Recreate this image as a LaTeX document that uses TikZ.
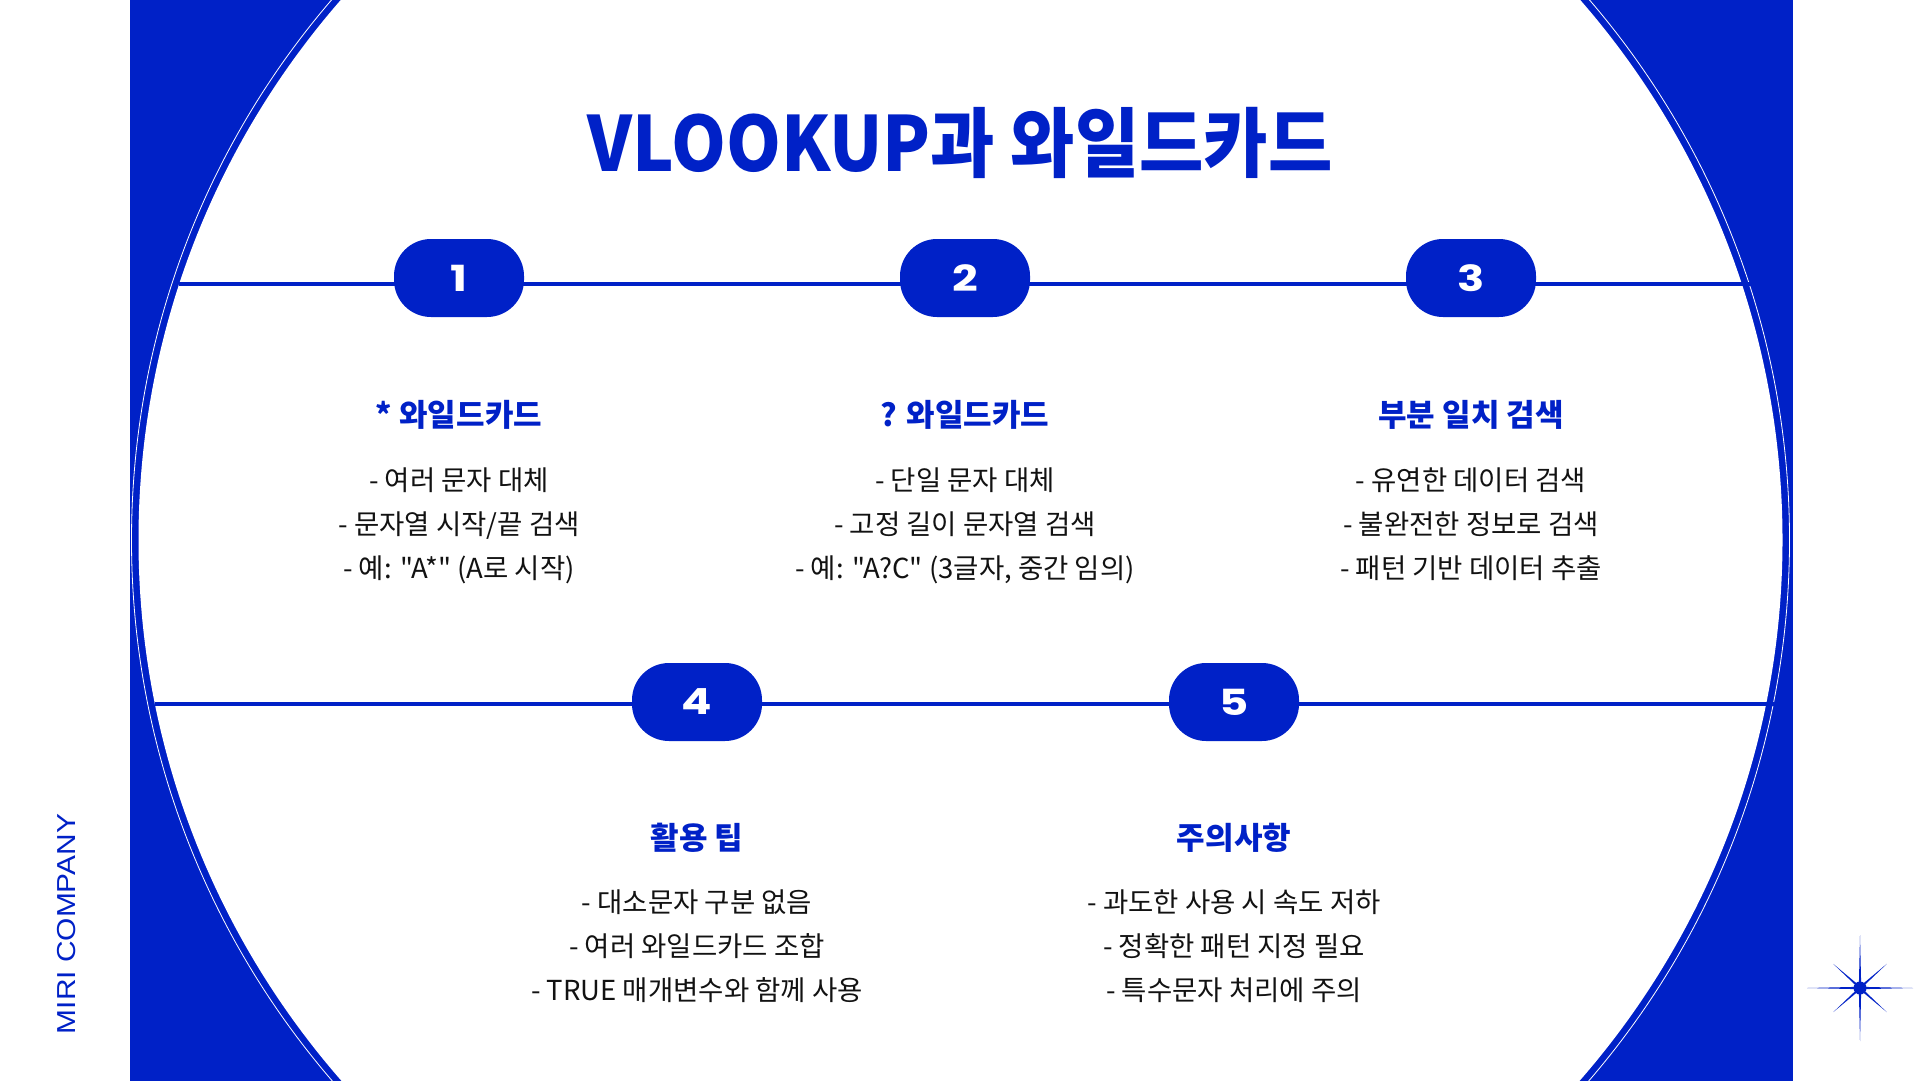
\documentclass[tikz,border=0pt]{standalone}
\usepackage{fontspec}
\setmainfont{Noto Sans CJK KR}
\newfontfamily\krbody{Noto Sans CJK KR}
\newfontfamily\krhead{Noto Sans CJK KR}
\newfontfamily\krtitle{Noto Sans CJK KR}[FakeStretch=0.92]
\newfontfamily\numfont{Poppins}[FakeStretch=1.25]
\newfontfamily\brandfont{Liberation Sans}[FakeStretch=1.15]
\definecolor{mblue}{RGB}{0,33,199}
\definecolor{bodytxt}{RGB}{18,18,18}
\begin{document}
\begin{tikzpicture}[x=1pt,y=-1pt,
  pill/.style={fill=mblue, rounded corners=37pt, minimum width=130pt, minimum height=78pt,
    inner sep=0pt, text=white, font=\numfont\bfseries\fontsize{36}{36}\selectfont},
  head/.style={anchor=base, text=mblue, font=\krhead\bfseries\fontsize{31}{31}\selectfont},
  bodyline/.style={anchor=base, text=bodytxt, font=\krbody\fontsize{27.5}{27.5}\selectfont},
  track/.style={draw=mblue, line width=3.5pt}]
\useasboundingbox (0,0) rectangle (1921,1081);
\fill[white] (0,0) rectangle (1921,1081);
\begin{scope}
  \clip (130,0) rectangle (1793,1081);
  \fill[mblue] (130,0) rectangle (1793,1081);
  \draw[white, line width=0.8pt] (960.5,540) circle[radius=829];
  \fill[white] (960.5,540) circle[radius=822];
\end{scope}
% title
\node[anchor=base, text=mblue, font=\krtitle\bfseries\fontsize{76}{76}\selectfont] (title) at (960,171) {VLOOKUP과 와일드카드};
% tracks
\coordinate (L1a) at (179,284);
\coordinate (L1b) at (1793,284);
\coordinate (L2a) at (155,704);
\coordinate (L2b) at (1793,704);
\draw[track] (L1a) -- (L1b);
\draw[track] (L2a) -- (L2b);
% pills
\node[pill] (p1) at (459,278) {1};
\node[pill] (p2) at (965,278) {2};
\node[pill] (p3) at (1471,278) {3};
\node[pill] (p4) at (697,702) {4};
\node[pill] (p5) at (1234,702) {5};
% column 1
\node[head] (h1) at (459,426) {* 와일드카드};
\node[bodyline] (b11) at (459,490) {- 여러 문자 대체};
\node[bodyline] (b12) at (459,534) {- 문자열 시작/끝 검색};
\node[bodyline] (b13) at (459,578) {- 예: "A*" (A로 시작)};
% column 2
\node[head] (h2) at (965,426) {? 와일드카드};
\node[bodyline] (b21) at (965,490) {- 단일 문자 대체};
\node[bodyline] (b22) at (965,534) {- 고정 길이 문자열 검색};
\node[bodyline] (b23) at (965,578) {- 예: "A?C" (3글자, 중간 임의)};
% column 3
\node[head] (h3) at (1471,426) {부분 일치 검색};
\node[bodyline] (b31) at (1471,490) {- 유연한 데이터 검색};
\node[bodyline] (b32) at (1471,534) {- 불완전한 정보로 검색};
\node[bodyline] (b33) at (1471,578) {- 패턴 기반 데이터 추출};
% column 4
\node[head] (h4) at (697,849) {활용 팁};
\node[bodyline] (b41) at (697,912) {- 대소문자 구분 없음};
\node[bodyline] (b42) at (697,956) {- 여러 와일드카드 조합};
\node[bodyline] (b43) at (697,1000) {- TRUE 매개변수와 함께 사용};
% column 5
\node[head] (h5) at (1234,849) {주의사항};
\node[bodyline] (b51) at (1234,912) {- 과도한 사용 시 속도 저하};
\node[bodyline] (b52) at (1234,956) {- 정확한 패턴 지정 필요};
\node[bodyline] (b53) at (1234,1000) {- 특수문자 처리에 주의};
% brand
\node[rotate=90, text=mblue, font=\brandfont\fontsize{26}{26}\selectfont, inner sep=0pt] (brand) at (67,924) {MIRI COMPANY};
% star
\coordinate (star) at (1860,988);
\begin{scope}[shift={(star)}]
  \fill[mblue] (0:53) -- (22.5:3) -- (42:36) -- (67.5:3) -- (90:53) -- (112.5:3) -- (138:36) -- (157.5:3)
    -- (180:53) -- (202.5:3) -- (222:36) -- (247.5:3) -- (270:53) -- (292.5:3) -- (318:36) -- (337.5:3) -- cycle;
  \fill[mblue] (0,0) circle[radius=6.5];
\end{scope}
\end{tikzpicture}
\end{document}
